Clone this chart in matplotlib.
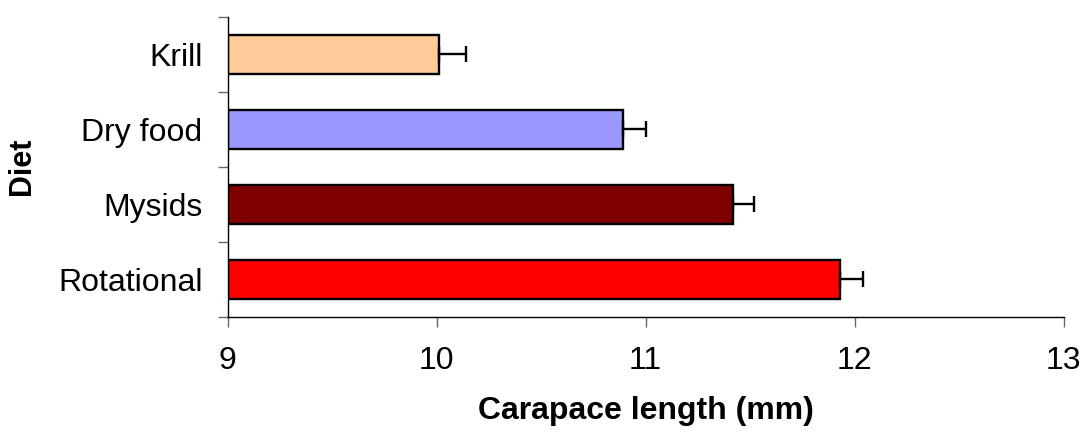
import numpy as np
import matplotlib.pyplot as plt
from matplotlib.ticker import FixedLocator

# data (bottom to top)
diets = ["Rotational", "Mysids", "Dry food", "Krill"]
length_mm = [11.93, 11.42, 10.89, 10.01]
sem_mm = [0.11, 0.10, 0.11, 0.13]
colors = ["#ff0000", "#800000", "#9999ff", "#ffcc99"]

plt.rcParams['font.family'] = ['Liberation Sans', 'DejaVu Sans']

fig = plt.figure(figsize=(10.83, 4.33), dpi=100)
ax = fig.add_axes([227.5/1083, (433-316.5)/433, (1063.5-227.5)/1083, (316.5-17)/433])

y = np.arange(len(diets))
ax.barh(y, np.array(length_mm) - 9, left=9, height=0.52, color=colors,
        edgecolor="black", linewidth=1.7, zorder=2)
ax.errorbar(length_mm, y, xerr=[np.zeros(len(sem_mm)), sem_mm], fmt="none",
            ecolor="black", elinewidth=1.7, capsize=5.5, capthick=1.7, zorder=3)

ax.set_xlim(9, 13)
ax.set_ylim(-0.5, len(diets) - 0.5)
ax.set_xticks([9, 10, 11, 12, 13])
ax.set_yticks(y)
ax.set_yticklabels(diets)
ax.yaxis.set_minor_locator(FixedLocator(np.arange(-0.5, len(diets), 1.0)))

ax.tick_params(axis="y", which="major", length=0, pad=18, labelsize=23)
ax.tick_params(axis="y", which="minor", length=7, width=1, color="#666666")
ax.tick_params(axis="x", which="major", length=7, width=1, color="#666666",
               pad=14, labelsize=23)

for s in ["top", "right"]:
    ax.spines[s].set_visible(False)
for s in ["left", "bottom"]:
    ax.spines[s].set_linewidth(1)

ax.set_xlabel("Carapace length (mm)", fontsize=23, fontweight="bold")
ax.set_ylabel("Diet", fontsize=22, fontweight="bold")
ax.xaxis.set_label_coords(0.5, (316.5 - 396) / 299.5)
ax.yaxis.set_label_coords((37 - 227.5) / 836, 0.5)

fig.savefig("out.png", dpi=100)
